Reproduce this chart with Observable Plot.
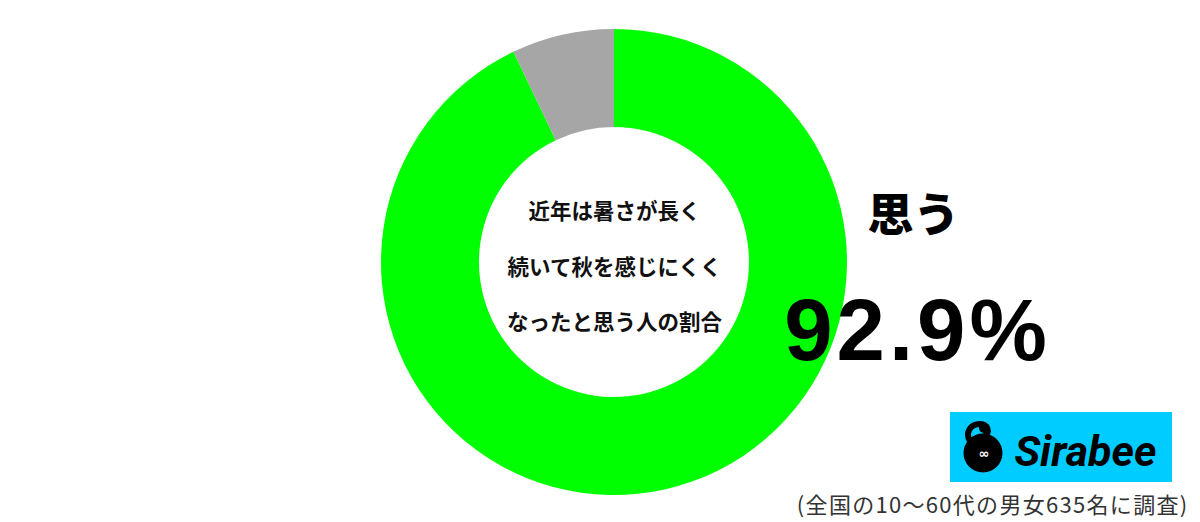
<!DOCTYPE html>
<html><head><meta charset="utf-8">
<script src="https://cdn.jsdelivr.net/npm/d3@7"></script>
<script src="https://cdn.jsdelivr.net/npm/@observablehq/plot@0.6"></script>
<style>
html,body{margin:0;padding:0;background:#fff;}
#chart{position:relative;width:1200px;height:522px;}
</style>
</head><body><div id="chart"></div>
<script>
const categories = ["思う", "思わない"];
const values = [92.9, 7.1];
const colors = ["#00FF00", "#A6A6A6"];
const centerLines = ["近年は暑さが長く", "続いて秋を感じにくく", "なったと思う人の割合"];
const answerLabel = "思う";
const answerValue = "92.9%";
const brand = "Sirabee";
const caption = "(全国の10〜60代の男女635名に調査)";

const data = categories.map((c, i) => ({category: c, value: values[i]}));
const cx = 614, cy = 262, rOuter = 233, rInner = 135;

const donut = (index, scales) => {
  const pie = d3.pie().sort(null).value(d => d.value)(data);
  const arc = d3.arc().innerRadius(rInner).outerRadius(rOuter);
  const g = d3.create("svg:g").attr("transform", `translate(${scales.x(cx)},${scales.y(cy)})`);
  g.selectAll("path").data(pie).join("path")
    .attr("d", arc)
    .attr("fill", d => scales.color(d.data.category));
  return g.node();
};

const logo = () => {
  const g = d3.create("svg:g");
  g.append("rect").attr("x", 950).attr("y", 412).attr("width", 222).attr("height", 70).attr("fill", "#00CCFF");
  g.append("circle").attr("cx", 983).attr("cy", 453).attr("r", 19.5).attr("fill", "#000");
  g.append("path").attr("d", "M970,441 C965,433 970,424 980,424 C988,424 990,432 985,436")
    .attr("fill", "none").attr("stroke", "#000").attr("stroke-width", 6).attr("stroke-linecap", "round");
  g.append("circle").attr("cx", 984).attr("cy", 428).attr("r", 5).attr("fill", "#000");
  g.append("text").attr("x", 984).attr("y", 458).attr("text-anchor", "middle")
    .attr("fill", "#fff").attr("font-size", 13).attr("font-weight", "bold").attr("font-family", "DejaVu Sans").text("∞");
  return g.node();
};

const lineY = [212, 268, 323];
const chart = Plot.plot({
  width: 1200, height: 522,
  margin: 0,
  x: {domain: [0, 1200], range: [0, 1200], axis: null},
  y: {domain: [0, 522], range: [0, 522], axis: null},
  color: {domain: categories, range: colors},
  style: {background: "#fff"},
  marks: [
    donut,
    Plot.text(centerLines, {x: () => cx, y: (d, i) => lineY[i], text: d => d,
      fontSize: 21.5, fontWeight: "bold", fill: "#111", fontFamily: "'Noto Sans CJK JP'"}),
    Plot.text([answerLabel], {x: () => 913, y: () => 216, text: d => d,
      fontSize: 46, fontWeight: 900, fill: "#000", fontFamily: "'Noto Sans CJK JP'"}),
    Plot.text([answerValue], {x: () => 917, y: () => 332, text: d => d,
      fontSize: 87, fontWeight: 900, fill: "#000", fontFamily: "'Liberation Sans', Arial"}),
    logo,
    Plot.text([brand], {x: () => 1085, y: () => 452, text: d => d,
      fontSize: 43, fontWeight: "bold", fontStyle: "italic", fill: "#000", fontFamily: "Roboto"}),
    Plot.text([caption], {x: () => 1188, y: () => 505, text: d => d, textAnchor: "end",
      fontSize: 22, fill: "#333", fontFamily: "'Noto Sans CJK JP'"})
  ]
});
d3.select(chart).selectAll("text").each(function() {
  if (this.textContent === caption) d3.select(this).attr("letter-spacing", 1.3);
  if (this.textContent === answerValue) d3.select(this).attr("letter-spacing", 4);
});
document.getElementById("chart").appendChild(chart);
</script>
</body></html>
